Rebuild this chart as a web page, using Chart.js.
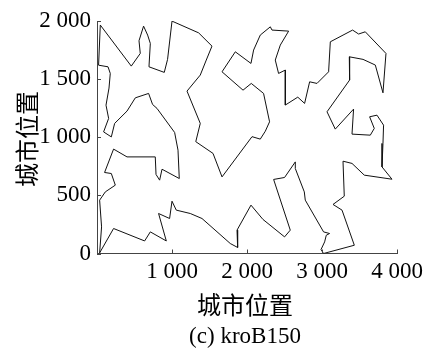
<!DOCTYPE html>
<html>
<head>
<meta charset="utf-8">
<script src="https://cdn.jsdelivr.net/npm/chart.js@4"></script>
<style>
html,body{margin:0;padding:0;background:#fff;}
#wrap{width:434px;height:349px;position:relative;}
</style>
</head>
<body>
<div id="wrap"><canvas id="c" width="434" height="349"></canvas></div>
<script>
// Tour of kroB150 (city coordinates, visiting order)
const cityX = [44,457,577,560,621,675,711,693,897,941,
  1000,1355,1533,1457,1377,1200,1377,1317,1547,1667,
  2067,2177,2244,2301,2221,2057,1947,1667,1844,2053,
  2088,2177,2311,2333,2555,2444,2377,2421,2511,2511,
  2677,2768,2835,2933,3088,3111,3408,3488,3577,3853,
  3813,3711,3547,3364,3368,
  3067,3177,3421,3400,3644,3697,3635,3733,3821,3813,
  3800,3933,3564,3400,3280,3297,3147,
  3267,3431,3021,2987,3035,3057,3101,3021,2777,2764,2644,2644,2501,2355,2577,2501,2213,2053,1867,1875,
  1777,1400,1244,1057,1000,968,821,924,711,635,221,35,61,35,111,244,
  191,101,221,400,777,787,835,867,1097,1080,1035,800,741,688,511,400,235,191,88,155,120,160,177,147,21];
const cityY = [1965,1612,1721,1830,1956,1879,1807,1606,1558,1670,
  1999,1898,1784,1664,1535,1397,1119,962,861,659,
  1005,984,1052,1133,1377,1463,1405,1563,1735,1635,
  1750,1879,1950,1922,1913,1793,1664,1549,1578,1277,
  1345,1291,1477,1463,1563,1821,1922,1888,1907,1721,
  1382,1621,1670,1692,1492,
  1219,1070,1242,1027,1018,1076,1176,1190,1104,947,
  745,639,674,775,794,493,422,
  373,71,0,34,100,157,172,186,459,530,731,788,654,637,201,143,293,416,201,52,
  86,301,344,373,450,301,344,108,186,108,215,5,229,459,530,588,
  688,697,898,831,831,680,631,725,645,889,1041,1248,1282,1377,1339,1225,1119,1003,1046,1162,1276,1423,1549,1606,1620];
const xTicks = [0,1000,2000,3000,4000];
const yTicks = [0,500,1000,1500,2000];
const axisTitle = '城市位置';
const caption = '(c) kroB150';

const tour = cityX.map((x,i)=>({x:x, y:cityY[i]}));
tour.push({x:cityX[0], y:cityY[0]});

function fmt(v){ return String(v).replace(/\B(?=(\d{3})+(?!\d))/g,' '); }

const tickFont = {family:'"Liberation Serif","Times New Roman",serif', size:23};

const decor = {
  id:'decor',
  afterDraw(chart){
    const ctx = chart.ctx, xs = chart.scales.x, ys = chart.scales.y;
    ctx.save();
    ctx.strokeStyle = '#444'; ctx.lineWidth = 1;
    const by = ys.getPixelForValue(0), lx = xs.getPixelForValue(0);
    xTicks.forEach(v=>{ const px = Math.round(xs.getPixelForValue(v))+0.5;
      ctx.beginPath(); ctx.moveTo(px, by); ctx.lineTo(px, by-4); ctx.stroke(); });
    yTicks.forEach(v=>{ const py = Math.round(ys.getPixelForValue(v))+0.5;
      ctx.beginPath(); ctx.moveTo(lx, py); ctx.lineTo(lx+4, py); ctx.stroke(); });
    ctx.fillStyle = '#000';
    ctx.textAlign = 'center'; ctx.textBaseline = 'middle';
    ctx.font = '24px "Noto Sans CJK SC"';
    ctx.fillText(axisTitle, 245, 305);
    ctx.save(); ctx.translate(27, 139); ctx.rotate(-Math.PI/2);
    ctx.fillText(axisTitle, 0, 0); ctx.restore();
    ctx.font = '23px "Liberation Serif"';
    ctx.fillText(caption, 245, 337);
    ctx.restore();
  }
};

new Chart(document.getElementById('c'), {
  type:'line',
  data:{datasets:[{data:tour, borderColor:'#111', borderWidth:1, pointRadius:0, tension:0, fill:false}]},
  options:{
    responsive:false, animation:false, devicePixelRatio:1,
    layout:{padding:{left:0, top:21, right:37, bottom:0}},
    plugins:{legend:{display:false}, tooltip:{enabled:false}},
    scales:{
      x:{type:'linear', min:0, max:4000,
        afterBuildTicks(s){ s.ticks = xTicks.map(v=>({value:v})); },
        afterFit(s){ s.height = 95.5; },
        grid:{display:false, drawTicks:false},
        border:{display:true, color:'#444', width:1},
        ticks:{color:'#000', font:tickFont, padding:5, maxRotation:0, autoSkip:false,
          callback:(v)=> v===0 ? '' : fmt(v)}},
      y:{type:'linear', min:0, max:2000,
        afterBuildTicks(s){ s.ticks = yTicks.map(v=>({value:v})); },
        afterFit(s){ s.width = 97; },
        grid:{display:false, drawTicks:false},
        border:{display:true, color:'#444', width:1},
        ticks:{color:'#000', font:tickFont, padding:6, autoSkip:false,
          callback:(v)=> fmt(v)}}
    }
  },
  plugins:[decor]
});
</script>
</body>
</html>
